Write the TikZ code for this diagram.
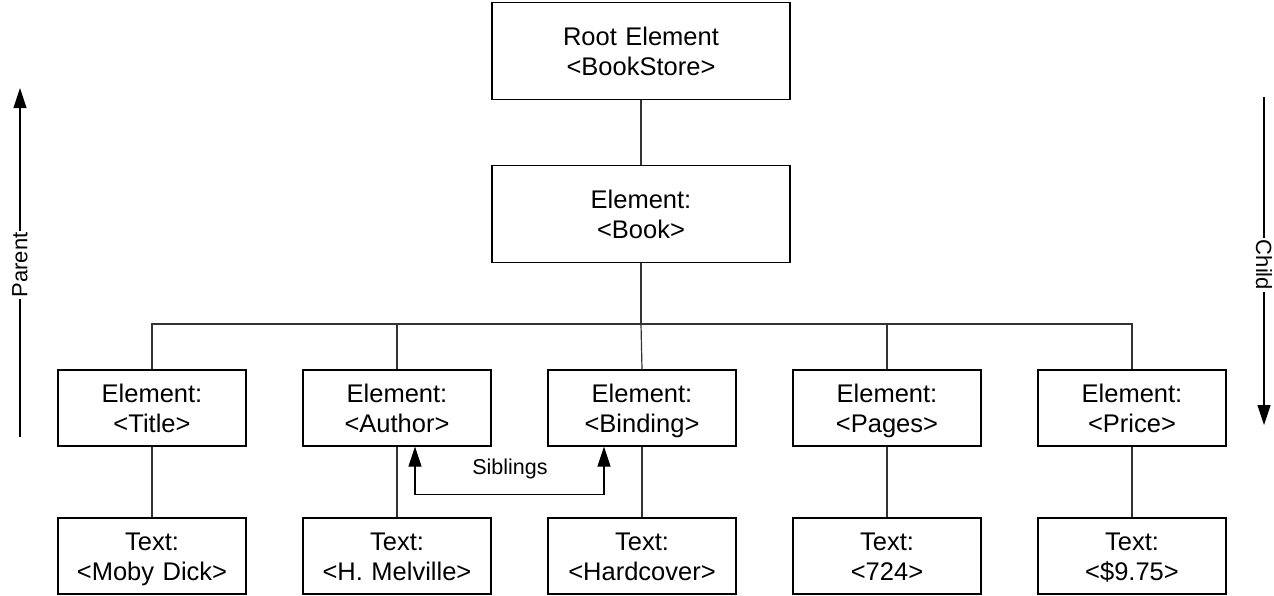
\documentclass[tikz,border=0pt]{standalone}
\usepackage{fontspec}
\setmainfont{Liberation Sans}
\usetikzlibrary{arrows.meta}

\begin{document}
\begin{tikzpicture}[x=1pt,y=-1pt,
  every node/.style={inner sep=0pt},
  box/.style={draw=black, line width=1.2pt, fill=white,
    text width=180pt, align=center,
    minimum width=188pt, minimum height=76pt,
    font=\fontsize{25.5pt}{30pt}\selectfont,
    execute at begin node={\rule{0pt}{24pt}},
    execute at end node={\rule[-6pt]{0pt}{6pt}}},
  wide/.style={box, minimum width=298pt, minimum height=97pt},
  link/.style={draw=black!80, line width=1.2pt},
  tip/.style={line width=1.2pt, draw=black,
    arrows={-Triangle[length=20pt,width=13pt]}},
  side/.style={fill=white, inner sep=1.5pt,
    font=\fontsize{22pt}{26pt}\selectfont}
]
\useasboundingbox (0,0) rectangle (1274,595);

% hierarchy boxes
\node[wide] (root) at (641,51) {Root Element\\<BookStore>};
\node[wide] (book) at (641,214) {Element:\\<Book>};

\node[box] (title)   at (152,408) {Element:\\<Title>};
\node[box] (author)  at (397,408) {Element:\\<Author>};
\node[box] (binding) at (642,408) {Element:\\<Binding>};
\node[box] (pages)   at (887,408) {Element:\\<Pages>};
\node[box] (price)   at (1132,408) {Element:\\<Price>};

\node[box] (ttitle)   at (152,556) {Text:\\<Moby Dick>};
\node[box] (tauthor)  at (397,556) {Text:\\<H. Melville>};
\node[box] (tbinding) at (642,556) {Text:\\<Hardcover>};
\node[box] (tpages)   at (887,556) {Text:\\<724>};
\node[box] (tprice)   at (1132,556) {Text:\\<\$9.75>};

% tree connectors
\coordinate (bus) at (641,324);
\draw[link] (root) -- (book);
\draw[link] (book) -- (bus);
\draw[link] (title.north) |- (bus) -| (price.north);
\draw[link] (author.north) -- (author.north |- bus);
\draw[link] (binding.north) -- (bus);
\draw[link] (pages.north) -- (pages.north |- bus);

\draw[link] (title) -- (ttitle);
\draw[link] (author) -- (tauthor);
\draw[link] (binding) -- (tbinding);
\draw[link] (pages) -- (tpages);
\draw[link] (price) -- (tprice);

% sibling relation
\draw[tip, arrows={Triangle[length=20pt,width=13pt]-Triangle[length=20pt,width=13pt]}]
  ([xshift=18pt]author.south) |- ([xshift=-38pt,yshift=-48pt]binding.south)
  -- ([xshift=-38pt]binding.south);
\node[font=\fontsize{21.5pt}{25pt}\selectfont] (sib) at (510,469) {Siblings};

% direction indicators
\coordinate (pbot) at (20,437);
\coordinate (ptop) at (20,88);
\draw[tip] (pbot) -- (ptop);
\node[side, rotate=90] (parent) at (20,265) {Parent};

\coordinate (ctop) at (1264,97);
\coordinate (cbot) at (1264,425);
\draw[tip] (ctop) -- (cbot);
\node[side, rotate=-90] (child) at (1264,265) {Child};
\end{tikzpicture}
\end{document}
